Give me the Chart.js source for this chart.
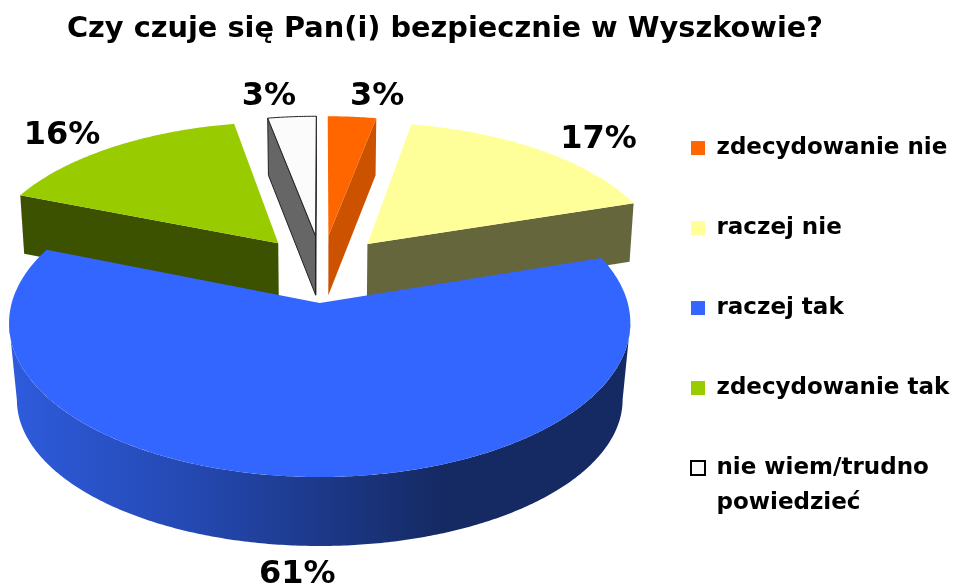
<!DOCTYPE html>
<html>
<head>
<meta charset="utf-8">
<script src="https://cdn.jsdelivr.net/npm/chart.js@4"></script>
<style>
  html, body { margin: 0; padding: 0; background: #fff; overflow: hidden; }
  canvas { display: block; filter: blur(0.6px); }
</style>
</head>
<body>
<canvas id="pie" width="957" height="584"></canvas>
<script>
const titleText = 'Czy czuje się Pan(i) bezpiecznie w Wyszkowie?';
const categories = ['zdecydowanie nie', 'raczej nie', 'raczej tak', 'zdecydowanie tak', ['nie wiem/trudno', 'powiedzieć']];
const percents = [3, 17, 61, 16, 3];
const topColors = ['#FF6600', '#FFFF99', '#3366FF', '#99CC00', '#FBFBFB'];
const sideColors = ['#CC5200', '#66663D', null, '#3D5200', '#666666'];
const borderColors = ['#FF6600', '#FFFF99', '#3366FF', '#99CC00', '#222222'];
const borderWidths = [0, 0, 0, 0, 1];

// perspective of the tilted pie
const pieX = 322, pieY = 303, pieR = 308, pieTilt = 151.4, persp = 0.13;
const explode = 0.235;
// label shift from the outer middle point of each slice
const labelShift = [[25, -20], [58, -11], [-11, 98], [-50, -12], [-23, -20]];

const project = (u, v) => {
  const w = 1 / (1 - persp * v);
  return [pieX + pieR * u * w, pieY + pieTilt * v * w];
};
const projectBottom = (u, v) => {
  const p = project(u, v);
  const depth = v >= 0 ? 78 - 9 * v : 60 + 2 * v;
  const shrink = v >= 0 ? 0.975 : 0.987;
  return [pieX + (p[0] - pieX) * shrink, p[1] + depth];
};

// chart.js angles start at -90deg, so a = 0 is the top of the pie here
const sliceInfo = (arc) => {
  const a0 = arc.startAngle + Math.PI / 2;
  const a1 = arc.endAngle + Math.PI / 2;
  const mid = (a0 + a1) / 2;
  // blue slice stays at the origin, the pie centre sits behind it
  return { a0, a1, mid, cu: explode * Math.sin(mid), cv: -explode - explode * Math.cos(mid) };
};
const rim = (s, a) => [s.cu + Math.sin(a), s.cv - Math.cos(a)];

const fillPath = (ctx, pts, fill, stroke, lw) => {
  ctx.beginPath();
  pts.forEach((p, i) => (i ? ctx.lineTo(p[0], p[1]) : ctx.moveTo(p[0], p[1])));
  ctx.closePath();
  ctx.fillStyle = fill;
  ctx.fill();
  if (lw) {
    ctx.strokeStyle = stroke;
    ctx.lineWidth = lw;
    ctx.stroke();
  }
};

const drawRadialWall = (ctx, s, a, fill, stroke, lw) => {
  const r = rim(s, a);
  fillPath(ctx, [
    project(s.cu, s.cv), project(r[0], r[1]),
    projectBottom(r[0], r[1]), projectBottom(s.cu, s.cv)
  ], fill, stroke, lw);
};

const drawArcWall = (ctx, s, from, to, fill) => {
  const top = [], bottom = [];
  for (let a = from; a < to; a += 0.01) {
    const r = rim(s, a);
    top.push(project(r[0], r[1]));
    bottom.unshift(projectBottom(r[0], r[1]));
  }
  fillPath(ctx, top.concat(bottom), fill);
};

const drawSlice = (ctx, arc, i) => {
  const s = sliceInfo(arc);
  const lw = arc.options.borderWidth;
  const stroke = arc.options.borderColor;
  let side = sideColors[i];
  if (!side) {
    side = ctx.createLinearGradient(15, 0, 625, 0);
    side.addColorStop(0, '#2E5BDC');
    side.addColorStop(0.3, '#2448B0');
    side.addColorStop(0.7, '#152A63');
    side.addColorStop(1, '#152A63');
  }
  if (Math.sin(s.a0) < 0) drawRadialWall(ctx, s, s.a0, side, stroke, lw);
  if (Math.sin(s.a1) > 0) drawRadialWall(ctx, s, s.a1, side, stroke, lw);
  // outer wall starts where the rim is at its widest on screen
  const from = Math.max(s.a0, Math.PI / 2 + persp);
  const to = Math.min(s.a1, Math.PI * 1.5 - persp);
  if (to > from) drawArcWall(ctx, s, from, to, side);

  const face = [project(s.cu, s.cv)];
  for (let a = s.a0; a < s.a1; a += 0.01) {
    const r = rim(s, a);
    face.push(project(r[0], r[1]));
  }
  const last = rim(s, s.a1);
  face.push(project(last[0], last[1]));
  fillPath(ctx, face, arc.options.backgroundColor, stroke, lw);
};

const tiltedPie = {
  id: 'tiltedPie',
  afterLayout(chart) {
    // title sits left of the canvas middle, legend hugs the right edge
    chart.titleBlock.left = 0;
    chart.titleBlock.right = 890;
    const lg = chart.legend;
    const w = lg.right - lg.left;
    lg.left = 634;
    lg.right = 634 + w;
    lg.top = 0;
    lg.bottom = 663;
  },
  beforeDatasetDraw(chart, args) {
    const ctx = chart.ctx;
    const arcs = args.meta.data;
    // back slices first, the big front slice last
    const order = arcs.map((arc, i) => i).sort((a, b) =>
      Math.cos(sliceInfo(arcs[b]).mid) - Math.cos(sliceInfo(arcs[a]).mid));
    ctx.save();
    order.forEach((i) => drawSlice(ctx, arcs[i], i));

    ctx.font = 'bold 32px "DejaVu Sans"';
    ctx.fillStyle = '#000';
    ctx.textAlign = 'center';
    ctx.textBaseline = 'middle';
    arcs.forEach((arc, i) => {
      const s = sliceInfo(arc);
      const r = rim(s, s.mid);
      const p = project(r[0], r[1]);
      ctx.fillText(percents[i] + '%', p[0] + labelShift[i][0], p[1] + labelShift[i][1]);
    });
    ctx.restore();
    return false;
  }
};

new Chart(document.getElementById('pie'), {
  type: 'pie',
  data: {
    labels: categories,
    datasets: [{
      data: percents,
      backgroundColor: topColors,
      borderColor: borderColors,
      borderWidth: borderWidths
    }]
  },
  options: {
    responsive: false,
    animation: false,
    layout: { padding: { bottom: 38 } },
    plugins: {
      title: {
        display: true,
        text: titleText,
        color: '#000',
        font: { family: '"DejaVu Sans"', size: 28.8, weight: 'bold' },
        padding: { top: 12, bottom: 10 }
      },
      legend: {
        position: 'right',
        labels: {
          color: '#000',
          font: { family: '"DejaVu Sans"', size: 23, weight: 'bold', lineHeight: 1.52 },
          boxWidth: 14,
          boxHeight: 14,
          padding: 57,
          generateLabels(chart) {
            const items = Chart.overrides.pie.plugins.legend.labels.generateLabels(chart);
            items.forEach((item) => { item.lineWidth = item.lineWidth ? 2 : 0; item.strokeStyle = item.lineWidth ? '#000' : item.strokeStyle; });
            return items;
          }
        }
      },
      tooltip: { enabled: false }
    }
  },
  plugins: [tiltedPie]
});
</script>
</body>
</html>
